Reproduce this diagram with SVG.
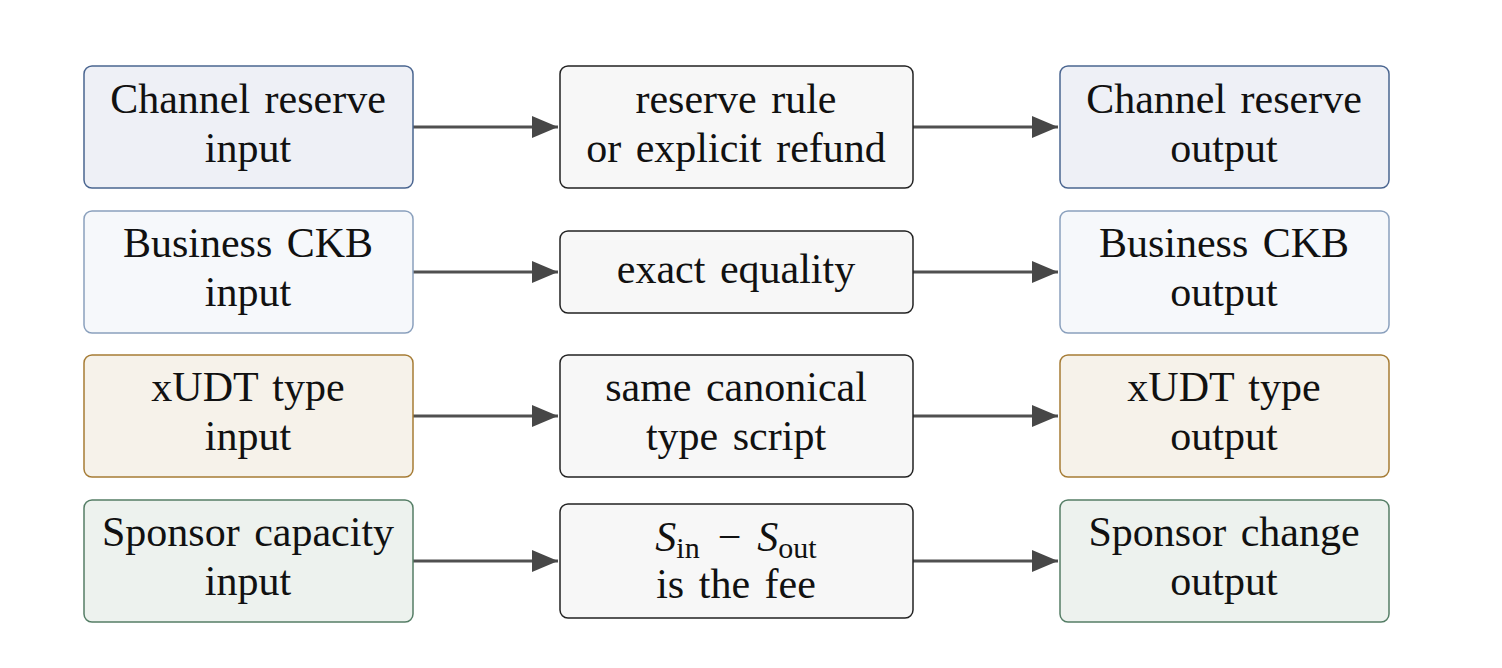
<svg xmlns="http://www.w3.org/2000/svg" width="1502" height="668" viewBox="0 0 1502 668">
<defs>
<style>
text{font-family:'Liberation Serif','Times New Roman',serif;font-size:42px;word-spacing:4px;fill:#111;text-anchor:middle}
.b{stroke-width:1.5}
.r1{fill:#eef0f6;stroke:#4a6590}
.r2{fill:#f6f8fb;stroke:#8aa0bd}
.r3{fill:#f6f2ea;stroke:#a67c35}
.r4{fill:#edf2ee;stroke:#557e66}
.m{fill:#f7f7f7;stroke:#222}
.c{stroke:#505050;stroke-width:3;fill:none}
.sub{font-size:30px}
</style>
<marker id="a" viewBox="0 0 26 22" refX="26" refY="11" markerWidth="26" markerHeight="22" markerUnits="userSpaceOnUse" orient="auto"><path d="M0,0 L26,11 L0,22 z" fill="#474747"/></marker>
</defs>
<rect width="1502" height="668" fill="#fff"/>
<g id="connectors">
<line class="c" x1="413" y1="127" x2="558" y2="127" marker-end="url(#a)"/>
<line class="c" x1="913" y1="127" x2="1058" y2="127" marker-end="url(#a)"/>
<line class="c" x1="413" y1="272" x2="558" y2="272" marker-end="url(#a)"/>
<line class="c" x1="913" y1="272" x2="1058" y2="272" marker-end="url(#a)"/>
<line class="c" x1="413" y1="416" x2="558" y2="416" marker-end="url(#a)"/>
<line class="c" x1="913" y1="416" x2="1058" y2="416" marker-end="url(#a)"/>
<line class="c" x1="413" y1="561" x2="558" y2="561" marker-end="url(#a)"/>
<line class="c" x1="913" y1="561" x2="1058" y2="561" marker-end="url(#a)"/>
</g>
<g id="n1"><rect class="b r1" x="84" y="66" width="329" height="122" rx="8"/><text x="248" y="113">Channel reserve</text><text x="248" y="162">input</text></g>
<g id="n2"><rect class="b m" x="560" y="66" width="353" height="122" rx="8"/><text x="736" y="113">reserve rule</text><text x="736" y="162">or explicit refund</text></g>
<g id="n3"><rect class="b r1" x="1060" y="66" width="329" height="122" rx="8"/><text x="1224" y="113">Channel reserve</text><text x="1224" y="162">output</text></g>
<g id="n4"><rect class="b r2" x="84" y="211" width="329" height="122" rx="8"/><text x="248" y="257">Business CKB</text><text x="248" y="306">input</text></g>
<g id="n5"><rect class="b m" x="560" y="231" width="353" height="82" rx="8"/><text x="736" y="283">exact equality</text></g>
<g id="n6"><rect class="b r2" x="1060" y="211" width="329" height="122" rx="8"/><text x="1224" y="257">Business CKB</text><text x="1224" y="306">output</text></g>
<g id="n7"><rect class="b r3" x="84" y="355" width="329" height="122" rx="8"/><text x="248" y="401">xUDT type</text><text x="248" y="450">input</text></g>
<g id="n8"><rect class="b m" x="560" y="355" width="353" height="122" rx="8"/><text x="736" y="401">same canonical</text><text x="736" y="450">type script</text></g>
<g id="n9"><rect class="b r3" x="1060" y="355" width="329" height="122" rx="8"/><text x="1224" y="401">xUDT type</text><text x="1224" y="450">output</text></g>
<g id="n10"><rect class="b r4" x="84" y="500" width="329" height="122" rx="8"/><text x="248" y="546">Sponsor capacity</text><text x="248" y="595">input</text></g>
<g id="n11"><rect class="b m" x="560" y="504" width="353" height="114" rx="8"/><text x="736" y="551"><tspan font-style="italic">S</tspan><tspan class="sub" dy="7">in</tspan><tspan dy="-7" dx="18">−</tspan><tspan dx="16" font-style="italic">S</tspan><tspan class="sub" dy="7">out</tspan></text><text x="736" y="598">is the fee</text></g>
<g id="n12"><rect class="b r4" x="1060" y="500" width="329" height="122" rx="8"/><text x="1224" y="546">Sponsor change</text><text x="1224" y="595">output</text></g>
</svg>
